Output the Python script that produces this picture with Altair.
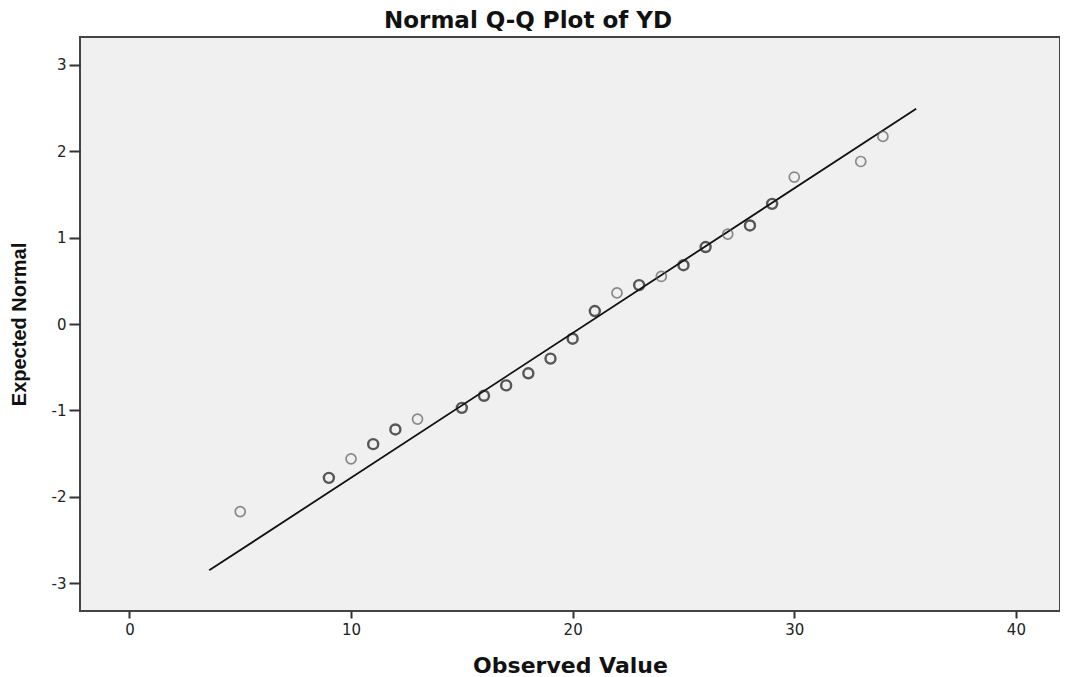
import altair as alt
import pandas as pd

observed = [5, 9, 10, 11, 12, 13, 15, 16, 17, 18, 19, 20, 21, 22, 23, 24, 25, 26, 27, 28, 29, 30, 33, 34]
expected = [-2.17, -1.78, -1.56, -1.39, -1.22, -1.10, -0.97, -0.83, -0.71, -0.57, -0.40, -0.17,
            0.15, 0.36, 0.45, 0.55, 0.68, 0.89, 1.04, 1.14, 1.39, 1.70, 1.88, 2.17]
# tied observations (overlapping circles drawn darker)
ties = [1, 2, 1, 2, 2, 1, 2, 2, 2, 2, 2, 2, 2, 1, 2, 1, 2, 2, 1, 2, 2, 1, 1, 1]

line_x = [3.6, 35.5]
line_y = [-2.85, 2.49]

x_ticks = [0, 10, 20, 30, 40]
y_ticks = [-3, -2, -1, 0, 1, 2, 3]

pts = pd.DataFrame({"obs": observed, "exp": expected,
                    "kind": ["tie" if t > 1 else "single" for t in ties]})
ref = pd.DataFrame({"obs": line_x, "exp": line_y})

xs = alt.Scale(domain=[-2.23, 41.99], nice=False, zero=False)
ys = alt.Scale(domain=[-3.32, 3.32], nice=False, zero=False)

lbl = "datum.value < 0 ? '-' + format(abs(datum.value), 'd') : format(datum.value, 'd')"

x_enc = alt.X("obs:Q", scale=xs, title="Observed Value",
              axis=alt.Axis(values=x_ticks, grid=False, domain=False, tickSize=7,
                            tickColor="#333", tickWidth=2, labelPadding=4, labelExpr=lbl,
                            labelFont="DejaVu Sans", labelFontSize=15, labelColor="#222",
                            titleFont="DejaVu Sans", titleFontSize=22, titleFontWeight="bold",
                            titleColor="#111", titlePadding=18))
y_enc = alt.Y("exp:Q", scale=ys, title="Expected Normal",
              axis=alt.Axis(values=y_ticks, grid=False, domain=False, tickSize=11,
                            tickColor="#333", tickWidth=2, labelPadding=3, labelExpr=lbl,
                            labelFont="DejaVu Sans", labelFontSize=15, labelColor="#222",
                            titleFont="Liberation Sans", titleFontSize=20, titleFontWeight="bold",
                            titleColor="#111", titlePadding=22))

line = alt.Chart(ref).mark_line(color="#111", strokeWidth=1.8).encode(x=x_enc, y=y_enc)

points = alt.Chart(pts).mark_point(shape="circle", filled=False, size=100).encode(
    x=x_enc, y=y_enc,
    stroke=alt.Stroke("kind:N", scale=alt.Scale(domain=["single", "tie"], range=["#5e5e5e", "#151515"]),
                      legend=None),
    strokeWidth=alt.StrokeWidth("kind:N", scale=alt.Scale(domain=["single", "tie"], range=[1.7, 2.4]),
                                legend=None),
)

chart = alt.layer(line, points).properties(
    width=980, height=574,
    title=alt.TitleParams("Normal Q-Q Plot of YD", font="DejaVu Sans", fontSize=23,
                          fontWeight="bold", color="#111", dx=-42, offset=4),
    autosize=alt.AutoSizeParams(type="none"),
    padding={"left": 72, "top": 29, "right": 0, "bottom": 66},
    background="white",
).configure_view(fill="#f0f0f0", stroke="#444", strokeWidth=2)

chart.save("out.html", embed_options={"renderer": "svg", "actions": False})
